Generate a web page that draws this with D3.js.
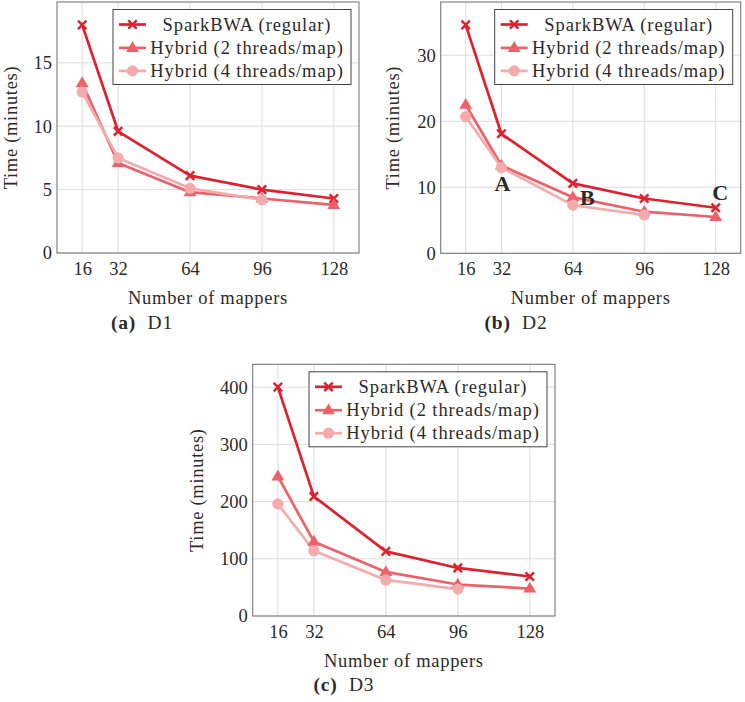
<!DOCTYPE html>
<html>
<head>
<meta charset="utf-8">
<script src="https://cdn.jsdelivr.net/npm/d3@7"></script>
<style>
  html, body { margin: 0; padding: 0; background: #fff; }
  svg text { font-family: "Liberation Serif", "Times New Roman", serif; fill: #2a2a2a; }
</style>
</head>
<body>
<svg id="chart" width="745" height="702"></svg>
<script>
// ---------------- DATA ----------------
const mappers = [16, 32, 64, 96, 128];
const seriesNames = ["SparkBWA (regular)", "Hybrid (2 threads/map)", "Hybrid (4 threads/map)"];

// D1
const d1Spark  = [18.0, 9.6, 6.1, 5.0, 4.3];
const d1Hyb2   = [13.4, 7.1, 4.8, 4.3, 3.8];
const d1Hyb4   = [12.7, 7.5, 5.1, 4.2];
// D2
const d2Spark  = [34.6, 18.1, 10.6, 8.3, 6.9];
const d2Hyb2   = [22.5, 13.3, 8.5, 6.3, 5.5];
const d2Hyb4   = [20.7, 13.0, 7.3, 5.8];
// D3
const d3Spark  = [400, 209, 113, 84, 69];
const d3Hyb2   = [244, 130, 77, 55, 48];
const d3Hyb4   = [196, 114, 63, 47];

const d1Ticks = [0, 5, 10, 15];
const d2Ticks = [0, 10, 20, 30];
const d3Ticks = [0, 100, 200, 300, 400];

const d2Notes = [
  { label: "A", x: 32.5, y: 10.6 },
  { label: "B", x: 70.5, y: 8.5 },
  { label: "C", x: 130, y: 9.3 }
];

const captionsTag = ["(a)", "(b)", "(c)"];
const captionsName = ["D1", "D2", "D3"];
const xLabel = "Number of mappers";
const yLabel = "Time (minutes)";

// ---------------- STYLE ----------------
const colors = ["#e0202c", "#ee6169", "#f5abab"];
const markers = ["cross", "triangle", "circle"];

const svg = d3.select("#chart");

function drawMarker(g, type, x, y, color) {
  if (type === "cross") {
    const s = 4.2;
    g.append("path")
      .attr("d", `M${x - s},${y - s}L${x + s},${y + s}M${x - s},${y + s}L${x + s},${y - s}`)
      .attr("stroke", color).attr("stroke-width", 2.5).attr("fill", "none");
  } else if (type === "triangle") {
    const s = 6.8;
    g.append("path")
      .attr("d", `M${x},${y - s}L${x + s * 0.95},${y + s * 0.6}L${x - s * 0.95},${y + s * 0.6}Z`)
      .attr("fill", color);
  } else {
    g.append("circle").attr("cx", x).attr("cy", y).attr("r", 5.6).attr("fill", color);
  }
}

function drawPanel(cfg) {
  const { left, top, right, bottom, yMax, ticks, series, ylabOff, capX, capY, notes } = cfg;
  const x = d3.scaleLinear().domain([4.8, 139.2]).range([left, right]);
  const y = d3.scaleLinear().domain([0, yMax]).range([bottom, top]);
  const g = svg.append("g");

  // grid
  const grid = g.append("g");
  grid.selectAll("line.vx").data(mappers).join("line")
    .attr("x1", d => x(d)).attr("x2", d => x(d))
    .attr("y1", top).attr("y2", bottom)
    .attr("stroke", "#d9d9d9").attr("stroke-width", 0.9);
  grid.selectAll("line.hy").data(ticks).join("line")
    .attr("x1", left).attr("x2", right)
    .attr("y1", d => y(d)).attr("y2", d => y(d))
    .attr("stroke", "#d9d9d9").attr("stroke-width", 0.9);

  // axes via d3 axis (ticks as labels only)
  const xa = g.append("g").attr("transform", `translate(0,${bottom})`)
    .call(d3.axisBottom(x).tickValues(mappers).tickSize(0).tickPadding(8));
  xa.select(".domain").remove();
  xa.attr("font-family", null);
  xa.selectAll("text").attr("font-size", 18.5).attr("dy", "0.75em").attr("fill", "#2a2a2a");

  const ya = g.append("g").attr("transform", `translate(${left},0)`)
    .call(d3.axisLeft(y).tickValues(ticks).tickSize(0).tickPadding(5));
  ya.select(".domain").remove();
  ya.attr("font-family", null);
  ya.selectAll("text").attr("font-size", 18.5).attr("fill", "#2a2a2a");

  // frame
  g.append("rect").attr("x", left).attr("y", top)
    .attr("width", right - left).attr("height", bottom - top)
    .attr("fill", "none").attr("stroke", "#7a7a7a").attr("stroke-width", 1.1);

  // lines + markers
  const line = d3.line().x(d => x(d[0])).y(d => y(d[1]));
  series.forEach((vals, i) => {
    const pts = vals.map((v, k) => [mappers[k], v]);
    g.append("path").attr("d", line(pts)).attr("fill", "none")
      .attr("stroke", colors[i]).attr("stroke-width", 2.7).attr("stroke-linejoin", "round");
  });
  series.forEach((vals, i) => {
    vals.forEach((v, k) => drawMarker(g, markers[i], x(mappers[k]), y(v), colors[i]));
  });

  // annotations
  if (notes) {
    notes.forEach(n => {
      g.append("text").attr("x", x(n.x)).attr("y", y(n.y)).attr("dy", "0.35em")
        .attr("text-anchor", "middle").attr("font-size", 22).attr("font-weight", "bold")
        .text(n.label);
    });
  }

  // legend
  const lw = 238, lh = 75;
  const lx = right - 8 - lw, ly = top + 7.5;
  const lg = g.append("g").attr("transform", `translate(${lx},${ly})`);
  lg.append("rect").attr("width", lw).attr("height", lh)
    .attr("fill", "#fff").attr("stroke", "#444").attr("stroke-width", 1);
  const rowY = [15, 38.4, 61.4];
  seriesNames.forEach((name, i) => {
    lg.append("line").attr("x1", 6).attr("x2", 33).attr("y1", rowY[i]).attr("y2", rowY[i])
      .attr("stroke", colors[i]).attr("stroke-width", 2.7);
    drawMarker(lg, markers[i], 19.5, rowY[i], colors[i]);
    lg.append("text").attr("x", 134).attr("y", rowY[i]).attr("dy", "0.33em")
      .attr("text-anchor", "middle").attr("font-size", 18.5).attr("letter-spacing", 0.9)
      .text(name);
  });

  // axis labels
  g.append("text").attr("x", (left + right) / 2).attr("y", bottom + 45).attr("dy", "0.33em")
    .attr("text-anchor", "middle").attr("font-size", 18.5).attr("letter-spacing", 0.7)
    .text(xLabel);
  g.append("text")
    .attr("transform", `translate(${left - ylabOff},${(top + bottom) / 2}) rotate(-90)`)
    .attr("dy", "0.33em").attr("text-anchor", "middle").attr("font-size", 18.5)
    .attr("letter-spacing", 0.7).text(yLabel);

  // caption
  const cap = g.append("text").attr("x", capX).attr("y", capY).attr("dy", "0.33em")
    .attr("text-anchor", "middle").attr("font-size", 19.5).attr("letter-spacing", 0.8);
  cap.append("tspan").attr("font-weight", "bold").text(cfg.tag);
  cap.append("tspan").text("\u00a0\u00a0" + cfg.name);
}

drawPanel({ left: 57, top: 2, right: 359, bottom: 253, yMax: 19.8, ticks: d1Ticks,
  series: [d1Spark, d1Hyb2, d1Hyb4], ylabOff: 46, capX: 142, capY: 323,
  tag: captionsTag[0], name: captionsName[0] });
drawPanel({ left: 440.7, top: 2, right: 740.7, bottom: 253.3, yMax: 38.06, ticks: d2Ticks,
  series: [d2Spark, d2Hyb2, d2Hyb4], ylabOff: 48, capX: 516, capY: 323, notes: d2Notes,
  tag: captionsTag[1], name: captionsName[1] });
drawPanel({ left: 252.7, top: 364.3, right: 555, bottom: 616, yMax: 440, ticks: d3Ticks,
  series: [d3Spark, d3Hyb2, d3Hyb4], ylabOff: 56, capX: 344, capY: 685,
  tag: captionsTag[2], name: captionsName[2] });
</script>
</body>
</html>
